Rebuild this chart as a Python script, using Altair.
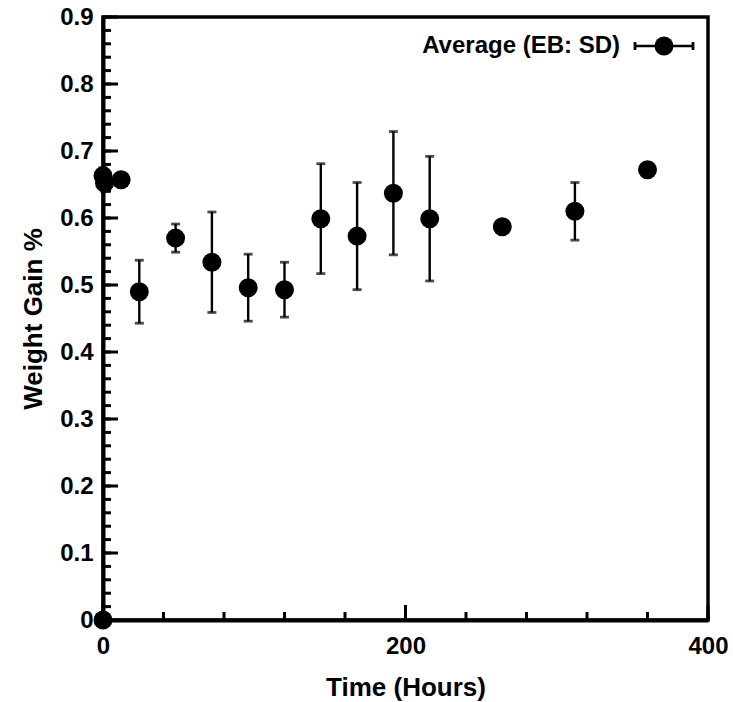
import altair as alt
import pandas as pd

# ---- data ----
time_h = [0, 0, 1, 12, 24, 48, 72, 96, 120, 144, 168, 192, 216, 264, 312, 360]
weight_gain = [0.0, 0.663, 0.652, 0.657, 0.490, 0.570, 0.534, 0.496, 0.493,
               0.599, 0.573, 0.637, 0.599, 0.587, 0.610, 0.672]
sd = [0.0, 0.012, 0.012, 0.008, 0.047, 0.021, 0.075, 0.050, 0.041,
      0.082, 0.080, 0.092, 0.093, 0.008, 0.043, 0.010]

y_major_ticks = [0.0, 0.1, 0.2, 0.3, 0.4, 0.5, 0.6, 0.7, 0.8, 0.9]
y_minor_ticks = [round(i * 0.02, 2) for i in range(46)]
x_major_ticks = [0, 200, 400]
x_minor_ticks = [0, 40, 80, 120, 160, 200, 240, 280, 320, 360, 400]

legend_label = "Average (EB: SD)"
x_title = "Time (Hours)"
y_title = "Weight Gain %"

FONT = "Liberation Sans"
W, H = 605, 603

df = pd.DataFrame({"t": time_h, "wg": weight_gain, "sd": sd})

xs = alt.Scale(domain=[0, 400], nice=False, zero=False)
ys = alt.Scale(domain=[0, 0.9], nice=False)

x_axis = alt.Axis(values=x_major_ticks, format="d", ticks=False, tickSize=0,
                  grid=False, labelFontSize=24, labelFont=FONT, labelFontWeight="bold",
                  labelColor="black", labelPadding=14, title=x_title,
                  titleFontSize=26, titleFont=FONT, titleFontWeight="bold",
                  titleColor="black", titlePadding=16, domainColor="black",
                  domainWidth=4, labelFlush=False)
y_axis = alt.Axis(values=y_major_ticks, ticks=False, tickSize=0, grid=False,
                  labelExpr="datum.value == 0 ? '0' : format(datum.value, '.1f')",
                  labelFontSize=24, labelFont=FONT, labelFontWeight="bold",
                  labelColor="black", labelPadding=10, title=y_title,
                  titleFontSize=26, titleFont=FONT, titleFontWeight="bold",
                  titleColor="black", titlePadding=13, domainColor="black",
                  domainWidth=4, labelFlush=False)


def X(field):
    return alt.X(field, scale=xs, axis=x_axis, title=x_title)


def Y(field):
    return alt.Y(field, scale=ys, axis=y_axis, title=y_title)


base = alt.Chart(df).transform_calculate(
    lo="datum.wg - datum.sd", hi="datum.wg + datum.sd"
)

bars = base.mark_rule(color="black", strokeWidth=2.4).encode(
    x=X("t:Q"), y=Y("lo:Q"), y2="hi:Q",
)
caps_lo = base.mark_tick(orient="horizontal", color="black", size=9, thickness=2.8).encode(
    x=X("t:Q"), y=Y("lo:Q")
)
caps_hi = base.mark_tick(orient="horizontal", color="black", size=9, thickness=2.8).encode(
    x=X("t:Q"), y=Y("hi:Q")
)
points = base.mark_circle(color="black", size=360, opacity=1).encode(
    x=X("t:Q"), y=Y("wg:Q")
)

# inward ticks
ymaj = alt.Chart(pd.DataFrame({"v": y_major_ticks})).mark_rule(color="black", strokeWidth=3).encode(
    y=Y("v:Q"), x=alt.value(0), x2=alt.value(15))
ymin = alt.Chart(pd.DataFrame({"v": y_minor_ticks})).mark_rule(color="black", strokeWidth=3).encode(
    y=Y("v:Q"), x=alt.value(0), x2=alt.value(8))
xmaj = alt.Chart(pd.DataFrame({"v": x_major_ticks})).mark_rule(color="black", strokeWidth=3).encode(
    x=X("v:Q"), y=alt.value(H), y2=alt.value(H - 15))
xmin = alt.Chart(pd.DataFrame({"v": x_minor_ticks})).mark_rule(color="black", strokeWidth=3).encode(
    x=X("v:Q"), y=alt.value(H), y2=alt.value(H - 8))

# manual legend (upper right)
one = alt.Data(values=[{"label": legend_label}])
leg_text = alt.Chart(one).mark_text(align="right", baseline="middle", fontSize=24,
                                    font=FONT, fontWeight="bold", color="black").encode(
    x=alt.value(517), y=alt.value(29), text="label:N")
leg_line = alt.Chart(one).mark_rule(color="black", strokeWidth=2.4).encode(
    x=alt.value(532), x2=alt.value(590), y=alt.value(29))
leg_cap1 = alt.Chart(one).mark_rule(color="black", strokeWidth=2.8).encode(
    x=alt.value(532), y=alt.value(25), y2=alt.value(33))
leg_cap2 = alt.Chart(one).mark_rule(color="black", strokeWidth=2.8).encode(
    x=alt.value(590), y=alt.value(25), y2=alt.value(33))
leg_pt = alt.Chart(one).mark_circle(color="black", size=360, opacity=1).encode(
    x=alt.value(561), y=alt.value(29))

chart = alt.layer(
    bars, caps_lo, caps_hi, ymaj, ymin, xmaj, xmin, points,
    leg_line, leg_cap1, leg_cap2, leg_pt, leg_text
).properties(
    width=W, height=H,
    autosize=alt.AutoSizeParams(type="none"),
    padding={"left": 103, "top": 17, "right": 25, "bottom": 82},
    background="white",
).configure_view(stroke="black", strokeWidth=3.5)

chart.save("out.html", embed_options={"renderer": "svg", "actions": False})
